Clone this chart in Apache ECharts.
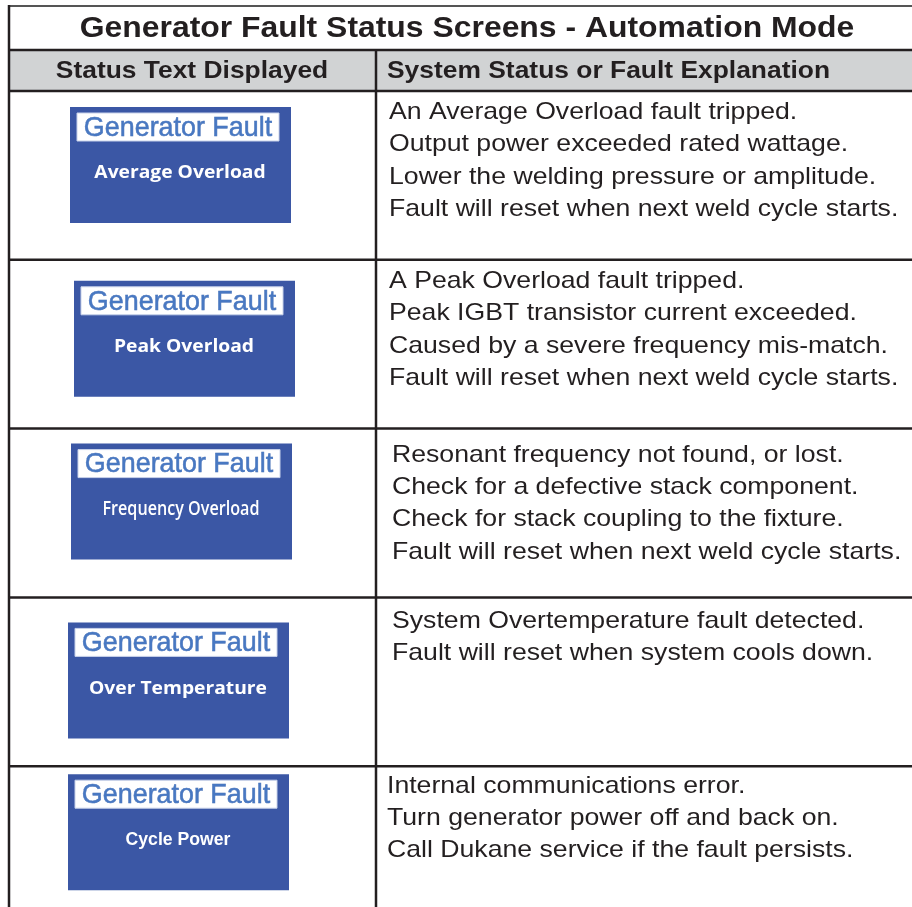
<!DOCTYPE html>
<html><head><meta charset="utf-8">
<script src="https://cdn.jsdelivr.net/npm/echarts@6/dist/echarts.min.js"></script>
<style>html,body{margin:0;padding:0;background:#fff}#c{width:912px;height:907px}</style>
</head><body><div id="c"></div>
<script>
// ---- content ----
const tableTitle = 'Generator Fault Status Screens - Automation Mode';
const columnHeaders = ['Status Text Displayed', 'System Status or Fault Explanation'];
const screenHeadings = ['Generator Fault', 'Generator Fault', 'Generator Fault', 'Generator Fault', 'Generator Fault'];
const screenMessages = ['Average Overload', 'Peak Overload', 'Frequency Overload', 'Over Temperature', 'Cycle Power'];
const explanations = [
  ['An Average Overload fault tripped.', 'Output power exceeded rated wattage.', 'Lower the welding pressure or amplitude.', 'Fault will reset when next weld cycle starts.'],
  ['A Peak Overload fault tripped.', 'Peak IGBT transistor current exceeded.', 'Caused by a severe frequency mis-match.', 'Fault will reset when next weld cycle starts.'],
  ['Resonant frequency not found, or lost.', 'Check for a defective stack component.', 'Check for stack coupling to the fixture.', 'Fault will reset when next weld cycle starts.'],
  ['System Overtemperature fault detected.', 'Fault will reset when system cools down.'],
  ['Internal communications error.', 'Turn generator power off and back on.', 'Call Dukane service if the fault persists.']
];

// ---- layout & style ----
const INK = '#231f20';
const PANEL = '#3b57a5';
const HEAD_BLUE = '#4878c2';
const STRETCH = 1.11;
const colLeft = 9, colDivide = 376;
const bodyTop = 91, rowPx = 168.8, pageH = 907;
const visibleRows = (pageH - bodyTop) / rowPx;
const panelOffset = [[61, 16], [65, 21], [62, 15], [59, 25], [59, 8]];
const textOffset = [[380, 21.5], [380, 21.5], [383, 26.5], [383, 23.5], [378, 20]];
const lineGap = 32.3;
const msgStyle = [
  {fontFamily: 'Open Sans', fontWeight: 'bold', fontSize: 18, scaleX: 1.07},
  {fontFamily: 'Open Sans', fontWeight: 'bold', fontSize: 18, scaleX: 1.07},
  {fontFamily: 'Open Sans', fontWeight: 600, fontSize: 19, scaleX: 0.85},
  {fontFamily: 'Open Sans', fontWeight: 'bold', fontSize: 18, scaleX: 1.07},
  {fontFamily: 'Liberation Sans', fontWeight: 'bold', fontSize: 18, scaleX: 0.98}
];

const chart = echarts.init(document.getElementById('c'), null, {renderer: 'canvas'});

function renderRow(params, api) {
  const idx = api.value(1);
  const topPt = api.coord([0, idx]);
  const bandH = api.size([0, 1])[1];
  const top = topPt[1];
  const left = params.coordSys.x;
  const width = params.coordSys.width;
  const px = left + panelOffset[idx][0];
  const py = top + panelOffset[idx][1];
  const pw = 221, ph = 116;
  const children = [
    {type: 'line', shape: {x1: left, y1: top + bandH, x2: left + width, y2: top + bandH},
     style: {stroke: INK, lineWidth: 2.5}},
    {type: 'rect', shape: {x: px, y: py, width: pw, height: ph}, style: {fill: PANEL}},
    {type: 'rect', shape: {x: px + 7, y: py + 6, width: 202, height: 28},
     style: {fill: '#ffffff', stroke: '#c8d2ea', lineWidth: 1}},
    {type: 'text', x: px + 108, y: py + 21, scaleX: 0.96,
     style: {text: screenHeadings[idx], fill: HEAD_BLUE, stroke: '#3f69b0', lineWidth: 0.5,
       fontFamily: 'Liberation Sans', fontSize: 28, align: 'center', verticalAlign: 'middle'}},
    {type: 'text', x: px + 110, y: py + 66, scaleX: msgStyle[idx].scaleX,
     style: {text: screenMessages[idx], fill: '#ffffff',
       fontFamily: msgStyle[idx].fontFamily, fontWeight: msgStyle[idx].fontWeight,
       fontSize: msgStyle[idx].fontSize, align: 'center', verticalAlign: 'middle'}}
  ];
  explanations[idx].forEach(function (line, i) {
    children.push({type: 'text', x: left + textOffset[idx][0], y: top + textOffset[idx][1] + i * lineGap,
      scaleX: STRETCH,
      style: {text: line, fill: INK, fontFamily: 'Liberation Sans', fontSize: 24,
        align: 'left', verticalAlign: 'middle'}});
  });
  return {type: 'group', children: children};
}

const option = {
  animation: false,
  backgroundColor: '#ffffff',
  grid: {left: colLeft, right: 0, top: bodyTop, bottom: 0, containLabel: false},
  xAxis: {type: 'value', min: 0, max: 1, show: false},
  yAxis: {type: 'value', min: 0, max: visibleRows, inverse: true, show: false},
  graphic: {elements: [
    {type: 'rect', shape: {x: colLeft, y: 50, width: 912 - colLeft, height: 41}, style: {fill: '#d1d3d4'}},
    {type: 'line', shape: {x1: colLeft - 1, y1: 6, x2: 912, y2: 6}, style: {stroke: '#555555', lineWidth: 2}},
    {type: 'line', shape: {x1: colLeft, y1: 50, x2: 912, y2: 50}, style: {stroke: INK, lineWidth: 2.5}},
    {type: 'line', shape: {x1: colLeft, y1: 91, x2: 912, y2: 91}, style: {stroke: INK, lineWidth: 2.5}},
    {type: 'line', shape: {x1: colLeft, y1: 5, x2: colLeft, y2: 907}, style: {stroke: INK, lineWidth: 2.5}},
    {type: 'line', shape: {x1: colDivide, y1: 50, x2: colDivide, y2: 907}, style: {stroke: INK, lineWidth: 2.5}},
    {type: 'text', x: 467, y: 28.5, scaleX: 1.10,
     style: {text: tableTitle, fill: INK, fontFamily: 'Liberation Sans', fontWeight: 'bold', fontSize: 29,
       align: 'center', verticalAlign: 'middle'}},
    {type: 'text', x: 192, y: 71, scaleX: 1.10,
     style: {text: columnHeaders[0], fill: INK, fontFamily: 'Liberation Sans', fontWeight: 'bold', fontSize: 24,
       align: 'center', verticalAlign: 'middle'}},
    {type: 'text', x: 387, y: 71, scaleX: 1.10,
     style: {text: columnHeaders[1], fill: INK, fontFamily: 'Liberation Sans', fontWeight: 'bold', fontSize: 24,
       align: 'left', verticalAlign: 'middle'}}
  ]},
  series: [{
    type: 'custom',
    silent: true,
    clip: false,
    renderItem: renderRow,
    encode: {x: 0, y: 1},
    data: screenMessages.map(function (m, i) { return [0, i]; })
  }]
};
chart.setOption(option);
</script>
</body></html>
